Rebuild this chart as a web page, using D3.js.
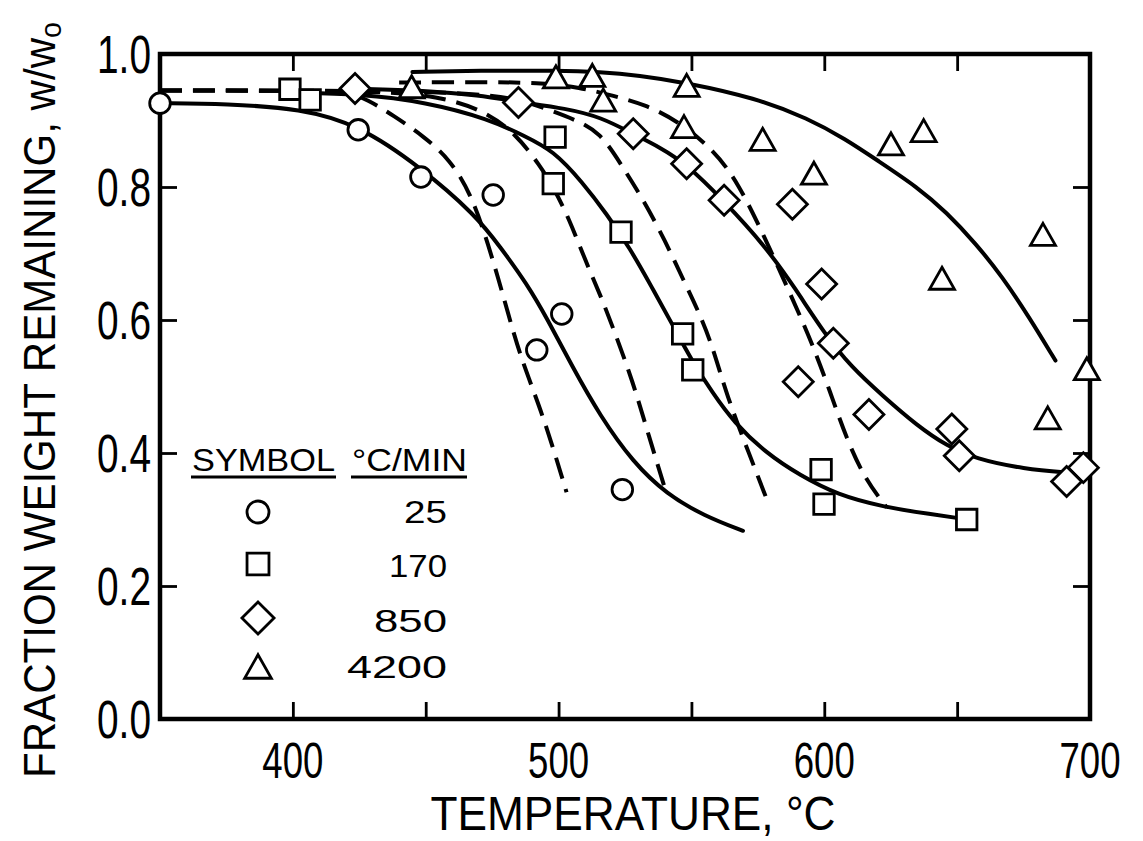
<!DOCTYPE html>
<html>
<head>
<meta charset="utf-8">
<script src="https://cdn.jsdelivr.net/npm/d3@7"></script>
<style>
  body { margin: 0; background: #fff; }
  text { font-family: "Liberation Sans", Arial, sans-serif; fill: #000; }
</style>
</head>
<body>
<div id="chart"></div>
<script>
// axis ticks / labels
var xTicks = [400, 450, 500, 550, 600, 650];
var xLabels = [400, 500, 600, 700];
var yTicks = [0.2, 0.4, 0.6, 0.8];
var yLabels = [0.0, 0.2, 0.4, 0.6, 0.8, 1.0];

// heating rates, degC/min
var rates = ["25", "170", "850", "4200"];

// measured points [temperature, w/wo]
var circles25 = [[350, 0.926], [424.6, 0.886], [448.2, 0.815], [475.4, 0.788], [491.8, 0.555], [501.2, 0.609], [524, 0.345]];
var squares170 = [[398.9, 0.947], [406.5, 0.931], [498.7, 0.875], [498, 0.805], [523.5, 0.732], [546.7, 0.579], [550.5, 0.525], [598.8, 0.375], [599.9, 0.323], [653.6, 0.300]];
var diamonds850 = [[423.4, 0.948], [484.9, 0.927], [528.1, 0.880], [548.2, 0.835], [562.3, 0.780], [588, 0.774], [599, 0.654], [603.4, 0.565], [590.2, 0.507], [616.8, 0.458], [648, 0.436], [650.8, 0.396], [697.5, 0.378], [691.2, 0.357]];
var triangles4200 = [[444.7, 0.950], [499, 0.965], [512.7, 0.967], [516.8, 0.930], [548.2, 0.952], [547.2, 0.890], [576.8, 0.871], [596.1, 0.820], [625.1, 0.864], [637.4, 0.884], [682.3, 0.728], [644.3, 0.662], [684.1, 0.452], [698.8, 0.526]];

// model curves, solid
var solid25 = [[350, 0.926], [375, 0.925], [403, 0.918], [425, 0.893], [448, 0.83], [469, 0.757], [478, 0.71], [488, 0.655], [496, 0.6], [505, 0.531], [515.6, 0.456], [528, 0.386], [540.7, 0.338], [555, 0.305], [569.4, 0.283]];
var solid170 = [[400, 0.942], [425, 0.94], [450, 0.928], [474, 0.902], [487, 0.877], [498, 0.855], [509, 0.807], [518, 0.76], [527, 0.707], [535, 0.65], [543, 0.592], [550, 0.54], [558, 0.49], [566, 0.446], [578, 0.40], [591, 0.366], [605, 0.337], [622, 0.319], [640, 0.308], [654, 0.300]];
var solid850 = [[423, 0.948], [450, 0.945], [470, 0.938], [485, 0.928], [503, 0.918], [516, 0.905], [528, 0.88], [538, 0.86], [548, 0.835], [562, 0.78], [578, 0.71], [589, 0.648], [600, 0.58], [610, 0.53], [622, 0.486], [635, 0.441], [646, 0.411], [657, 0.391], [675, 0.376], [693, 0.37]];
var solid4200 = [[445, 0.973], [470, 0.975], [500, 0.975], [515.6, 0.973], [530, 0.968], [548, 0.957], [574, 0.934], [594, 0.903], [608, 0.872], [620, 0.84], [635, 0.80], [646, 0.762], [657, 0.715], [667, 0.665], [677, 0.605], [687, 0.539]];

// model curves, dashed
var dashed25 = [[350, 0.945], [400, 0.945], [420, 0.943], [428, 0.932], [438, 0.907], [449, 0.877], [459, 0.842], [467, 0.79], [473.5, 0.715], [480, 0.625], [485.5, 0.545], [494.3, 0.456], [503, 0.341]];
var dashed170 = [[350, 0.945], [430, 0.945], [455, 0.937], [472, 0.915], [484, 0.88], [493, 0.832], [498, 0.8], [504, 0.752], [510, 0.69], [516, 0.635], [521, 0.583], [528, 0.507], [534, 0.425], [540.7, 0.338]];
var dashed850 = [[350, 0.945], [440, 0.945], [470, 0.94], [485.5, 0.932], [497, 0.915], [507, 0.9], [515.6, 0.882], [523.4, 0.835], [532, 0.78], [540, 0.72], [547, 0.66], [553, 0.61], [558, 0.56], [563.3, 0.486], [572, 0.396], [578.3, 0.331]];
var dashed4200 = [[440, 0.957], [470, 0.958], [493, 0.957], [508, 0.95], [520.8, 0.937], [532.5, 0.924], [544.2, 0.901], [558.5, 0.856], [567.7, 0.805], [576.8, 0.731], [588.6, 0.627], [595.8, 0.561], [602.2, 0.492], [608.4, 0.421], [615.3, 0.361], [623.5, 0.318]];

var width = 1143;
var height = 841;

var svg = d3.select("#chart")
    .append("svg")
    .attr("width", width)
    .attr("height", height);

var x = d3.scaleLinear()
    .domain([350, 700])
    .range([160, 1090]);

var y = d3.scaleLinear()
    .domain([0, 1])
    .range([719, 54]);

// inward ticks on all four sides
svg.append("g")
    .attr("transform", `translate(0, ${y(0)})`)
    .call(d3.axisBottom(x).tickValues(xTicks).tickSize(-17).tickFormat(""));
svg.append("g")
    .attr("transform", `translate(0, ${y(1)})`)
    .call(d3.axisTop(x).tickValues(xTicks).tickSize(-17).tickFormat(""));
svg.append("g")
    .attr("transform", `translate(${x(350)}, 0)`)
    .call(d3.axisLeft(y).tickValues(yTicks).tickSize(-17).tickFormat(""));
svg.append("g")
    .attr("transform", `translate(${x(700)}, 0)`)
    .call(d3.axisRight(y).tickValues(yTicks).tickSize(-17).tickFormat(""));

svg.selectAll(".domain").remove();
svg.selectAll(".tick line").attr("stroke", "#000").attr("stroke-width", 2.8);

// frame
svg.append("rect")
    .attr("x", x(350))
    .attr("y", y(1))
    .attr("width", x(700) - x(350))
    .attr("height", y(0) - y(1))
    .attr("fill", "none")
    .attr("stroke", "#000")
    .attr("stroke-width", 4.5);

// tick labels
svg.selectAll("text.xl")
    .data(xLabels)
    .enter()
    .append("text")
    .attr("class", "xl")
    .attr("x", (d) => x(d))
    .attr("y", 778)
    .attr("text-anchor", "middle")
    .attr("font-size", 50)
    .attr("textLength", 61)
    .attr("lengthAdjust", "spacingAndGlyphs")
    .text((d) => d);

svg.selectAll("text.yl")
    .data(yLabels)
    .enter()
    .append("text")
    .attr("class", "yl")
    .attr("x", 151)
    .attr("y", (d) => y(d) + 19)
    .attr("text-anchor", "end")
    .attr("font-size", 53)
    .attr("textLength", 54)
    .attr("lengthAdjust", "spacingAndGlyphs")
    .text((d) => d.toFixed(1));

// axis titles
svg.append("text")
    .attr("x", 633)
    .attr("y", 830)
    .attr("text-anchor", "middle")
    .attr("font-size", 48)
    .attr("textLength", 405)
    .attr("lengthAdjust", "spacingAndGlyphs")
    .text("TEMPERATURE, °C");

var ytitle = svg.append("text")
    .attr("transform", "translate(55, 400) rotate(-90)")
    .attr("text-anchor", "middle")
    .attr("font-size", 44)
    .attr("textLength", 756)
    .attr("lengthAdjust", "spacingAndGlyphs");
ytitle.append("tspan").text("FRACTION WEIGHT REMAINING, w/w");
ytitle.append("tspan").attr("font-size", 30).attr("dy", 6).text("o");

// curves
var line = d3.line()
    .x((d) => x(d[0]))
    .y((d) => y(d[1]))
    .curve(d3.curveBasis);

var solids = [solid25, solid170, solid850, solid4200];
var dashes = [dashed25, dashed170, dashed850, dashed4200];

svg.selectAll("path.solid")
    .data(solids)
    .enter()
    .append("path")
    .attr("class", "solid")
    .attr("d", line)
    .attr("fill", "none")
    .attr("stroke", "#000")
    .attr("stroke-width", 4)
    .attr("stroke-linecap", "round");

svg.selectAll("path.dashed")
    .data(dashes)
    .enter()
    .append("path")
    .attr("class", "dashed")
    .attr("d", line)
    .attr("fill", "none")
    .attr("stroke", "#000")
    .attr("stroke-width", 4)
    .attr("stroke-dasharray", "22,11");

// marker shapes
function shape(kind, s) {
    if (kind === "circle") return d3.symbol().type(d3.symbolCircle).size(Math.PI * 10.3 * 10.3 * s * s)();
    if (kind === "square") return d3.symbol().type(d3.symbolSquare).size(20.5 * 20.5 * s * s)();
    if (kind === "diamond") {
        var h = 15 * s;
        return `M0,${-h}L${h},0L0,${h}L${-h},0Z`;
    }
    var w = 12.5 * s;
    return `M0,${-11.5 * s}L${w},${10.5 * s}L${-w},${10.5 * s}Z`;
}

var kinds = ["circle", "square", "diamond", "triangle"];
var pointSets = [circles25, squares170, diamonds850, triangles4200];

pointSets.forEach(function (pts, i) {
    svg.selectAll("path.m" + i)
        .data(pts)
        .enter()
        .append("path")
        .attr("class", "m" + i)
        .attr("d", shape(kinds[i], 1))
        .attr("transform", (d) => `translate(${x(d[0])}, ${y(d[1])})`)
        .attr("fill", "#fff")
        .attr("stroke", "#000")
        .attr("stroke-width", 2.8);
});

// legend
var lg = svg.append("g");
lg.append("text").attr("x", 192).attr("y", 471).attr("font-size", 32)
    .attr("textLength", 143).attr("lengthAdjust", "spacingAndGlyphs").text("SYMBOL");
lg.append("text").attr("x", 352).attr("y", 471).attr("font-size", 32)
    .attr("textLength", 115).attr("lengthAdjust", "spacingAndGlyphs").text("°C/MIN");
lg.append("line").attr("x1", 191).attr("x2", 336).attr("y1", 477).attr("y2", 477)
    .attr("stroke", "#000").attr("stroke-width", 3);
lg.append("line").attr("x1", 351).attr("x2", 467).attr("y1", 477).attr("y2", 477)
    .attr("stroke", "#000").attr("stroke-width", 3);

var legendRows = [512, 564, 618, 667];
var legendBase = [523, 577, 632, 678];
var legendWidths = [43, 58, 73, 100];

rates.forEach(function (r, i) {
    lg.append("path")
        .attr("d", shape(kinds[i], 1.07))
        .attr("transform", `translate(258, ${legendRows[i]})`)
        .attr("fill", "#fff")
        .attr("stroke", "#000")
        .attr("stroke-width", 2.8);
    lg.append("text")
        .attr("x", 447)
        .attr("y", legendBase[i])
        .attr("text-anchor", "end")
        .attr("font-size", 32)
        .attr("textLength", legendWidths[i])
        .attr("lengthAdjust", "spacingAndGlyphs")
        .text(r);
});
</script>
</body>
</html>
